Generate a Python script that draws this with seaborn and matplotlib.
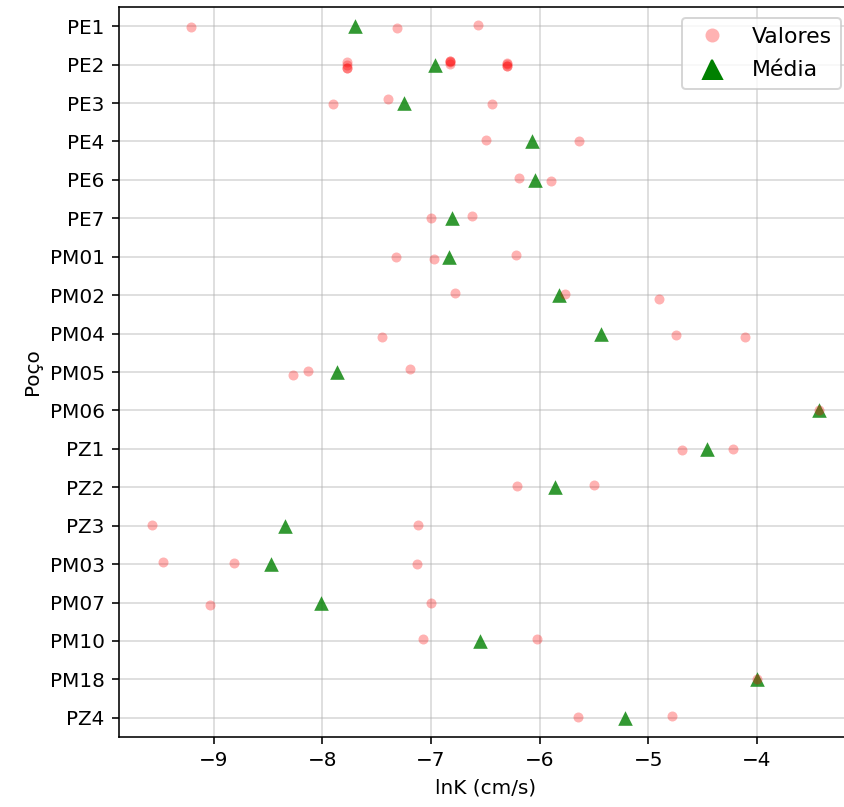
import numpy as np
import pandas as pd
import matplotlib
matplotlib.use("Agg")
import matplotlib.pyplot as plt
import seaborn as sns
from matplotlib.lines import Line2D

# Category order (y axis)
pocos = ["PE1", "PE2", "PE3", "PE4", "PE6", "PE7", "PM01", "PM02", "PM04",
         "PM05", "PM06", "PZ1", "PZ2", "PZ3", "PM03", "PM07", "PM10", "PM18", "PZ4"]

# Individual observations (long form)
obs_poco = (["PE1"] * 3 + ["PE2"] * 12 + ["PE3"] * 3 + ["PE4"] * 2 + ["PE6"] * 2 +
            ["PE7"] * 2 + ["PM01"] * 3 + ["PM02"] * 3 + ["PM04"] * 3 + ["PM05"] * 3 +
            ["PM06"] * 1 + ["PZ1"] * 2 + ["PZ2"] * 2 + ["PZ3"] * 2 + ["PM03"] * 3 +
            ["PM07"] * 2 + ["PM10"] * 2 + ["PM18"] * 1 + ["PZ4"] * 2)
obs_lnk = [-9.21, -7.31, -6.57,
           -7.77, -7.77, -7.77, -7.77, -6.82, -6.82, -6.82, -6.82, -6.30, -6.30, -6.30, -6.30,
           -7.90, -7.40, -6.44,
           -6.49, -5.64,
           -6.19, -5.89,
           -7.00, -6.62,
           -7.32, -6.97, -6.22,
           -6.78, -5.77, -4.90,
           -7.45, -4.74, -4.11,
           -8.27, -8.13, -7.19,
           -3.43,
           -4.69, -4.22,
           -6.21, -5.50,
           -9.57, -7.12,
           -9.47, -8.81, -7.13,
           -9.03, -7.00,
           -7.07, -6.02,
           -4.00,
           -5.65, -4.78]

df = pd.DataFrame({"poco": obs_poco, "lnk": obs_lnk})
medias = df.groupby("poco", sort=False)["lnk"].mean().reindex(pocos).reset_index()

W, H, DPI = 844, 807, 144
fig = plt.figure(figsize=(W / DPI, H / DPI), dpi=DPI)
ax = fig.add_axes([118.5 / W, 70 / H, (852 - 118.5) / W, 730 / H])

sns.stripplot(data=medias, x="lnk", y="poco", order=pocos, jitter=False,
              marker="^", color="green", alpha=0.8, size=7.3, linewidth=0, ax=ax)
np.random.seed(3)
sns.stripplot(data=df, x="lnk", y="poco", order=pocos, jitter=True,
              color="red", alpha=0.3, size=5, linewidth=0, ax=ax)

ax.grid(True, alpha=0.5)
ax.set_axisbelow(True)
ax.set_xlabel("lnK (cm/s)")
ax.set_ylabel("Poço")

handles = [
    Line2D([], [], marker="o", linestyle="none", markerfacecolor="red",
           markeredgecolor="none", alpha=0.3, markersize=7, label="Valores"),
    Line2D([], [], marker="^", linestyle="none", color="green",
           markersize=9.5, label="Média"),
]
ax.legend(handles=handles, loc="upper right", fontsize=11, labelspacing=0.62)

fig.savefig("out.png", dpi=DPI)
